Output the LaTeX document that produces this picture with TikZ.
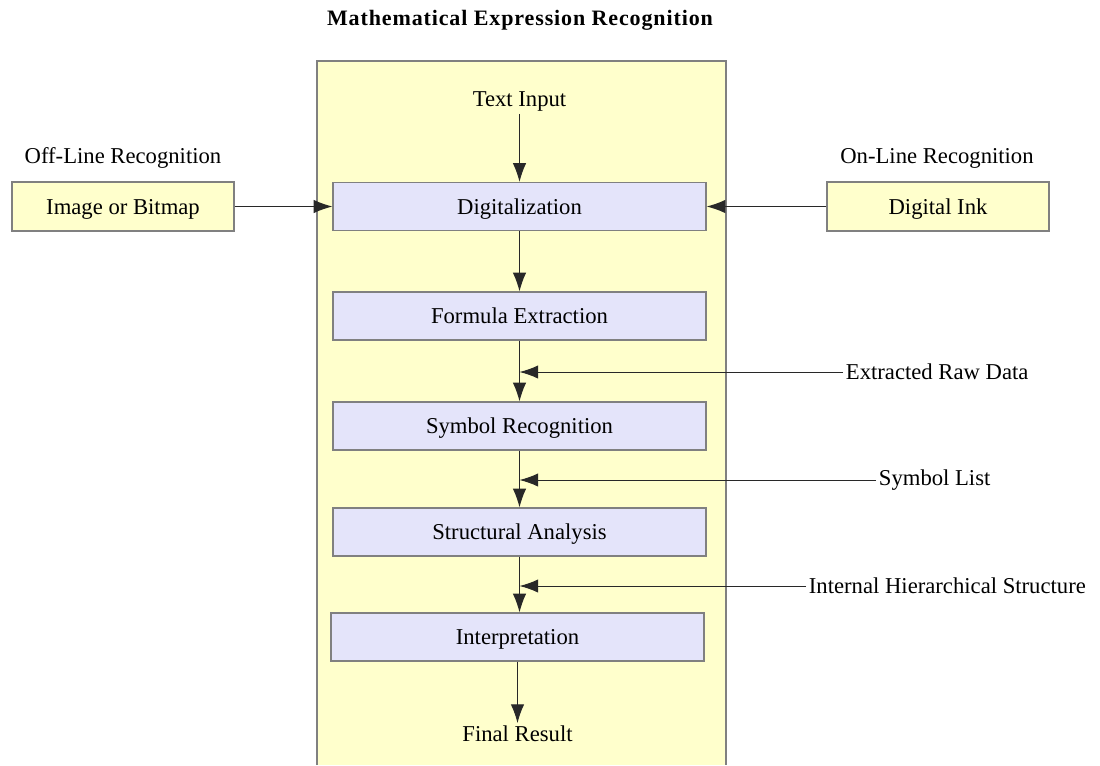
\documentclass[tikz,border=0pt]{standalone}
\usepackage{fontspec}
\setmainfont{Liberation Serif}
\usetikzlibrary{arrows.meta}
\definecolor{paleyellow}{RGB}{255,255,204}
\definecolor{paleblue}{RGB}{228,228,250}
\definecolor{edgegray}{RGB}{128,128,128}
\definecolor{linegray}{RGB}{40,40,40}
\tikzset{
  stagebox/.style={draw=edgegray, line width=0.9pt, fill=paleblue, minimum width=279.75pt, minimum height=36pt, inner sep=0pt, text height=11.3pt, text depth=0pt, font=\fontsize{17}{20}\selectfont},
  sourcebox/.style={draw=edgegray, line width=0.9pt, fill=paleyellow, minimum width=166.5pt, minimum height=36.75pt, inner sep=0pt, text height=11.3pt, text depth=0pt, font=\fontsize{17}{20}\selectfont},
  plain/.style={inner sep=2pt, font=\fontsize{17}{20}\selectfont},
  flow/.style={draw=linegray, line width=0.75pt, -{Latex[length=14pt,width=10pt]}},
}
\begin{document}
\begin{tikzpicture}[x=0.75pt,y=-0.75pt]
\useasboundingbox (0,0) rectangle (1100,765);
% container
\fill[paleyellow] (317,61) rectangle (726,765);
\draw[edgegray, line width=1.2pt] (317,765) -- (317,61) -- (726,61) -- (726,765);
% title
\node[font=\bfseries\fontsize{16.5}{19}\selectfont\addfontfeatures{LetterSpace=4}] (title) at (520,20) {Mathematical Expression Recognition};
% stages
\node[plain] (input) at (519.5,101) {Text Input};
\node[stagebox] (dig) at (519.5,206.5) {Digitalization};
\node[stagebox] (form) at (519.5,316) {Formula Extraction};
\node[stagebox] (sym) at (519.5,426) {Symbol Recognition};
\node[stagebox] (struct) at (519.5,532) {Structural Analysis};
\node[stagebox] (interp) at (517.5,637) {Interpretation};
\node[plain] (final) at (517.5,734) {Final Result};
% sources
\node[plain] (offl) at (123,158) {Off-Line Recognition};
\node[sourcebox] (img) at (123,206.5) {Image or Bitmap};
\node[plain] (onl) at (937,158) {On-Line Recognition};
\node[sourcebox] (ink) at (938,206.5) {Digital Ink};
% side labels
\node[plain, anchor=west] (raw) at (843,372) {Extracted Raw Data};
\node[plain, anchor=west] (slist) at (876,480) {Symbol List};
\node[plain, anchor=west] (hier) at (806,586) {Internal Hierarchical Structure};
\coordinate (m1) at (519.5,372);
\coordinate (m2) at (519.5,480);
\coordinate (m3) at (519.5,586);
% connectors
\draw[flow] (input) -- (dig);
\draw[flow] (img) -- (dig);
\draw[flow] (ink) -- (dig);
\draw[flow] (dig) -- (form);
\draw[flow] (form) -- (sym);
\draw[flow] (sym) -- (struct);
\draw[flow] (struct.south) -- (struct.south |- interp.north);
\draw[flow] (interp) -- (final);
\draw[flow] (raw.west) -- (m1);
\draw[flow] (slist.west) -- (m2);
\draw[flow] (hier.west) -- (m3);
\end{tikzpicture}
\end{document}
